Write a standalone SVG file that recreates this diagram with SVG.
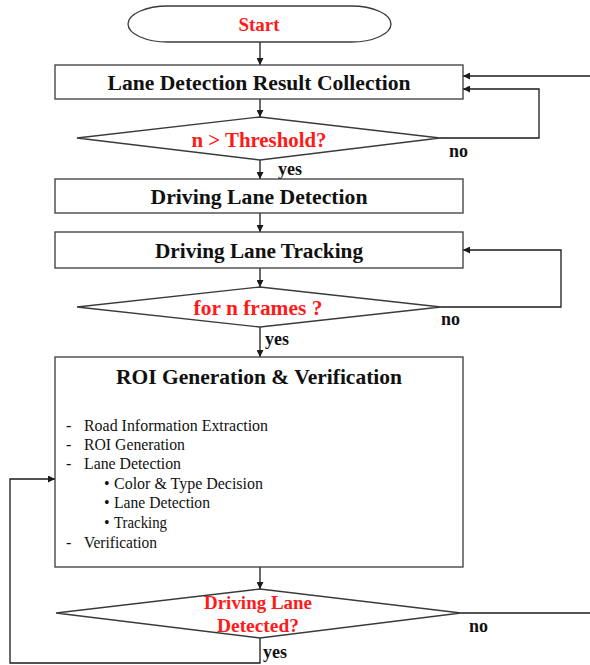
<svg xmlns="http://www.w3.org/2000/svg" width="590" height="665" viewBox="0 0 590 665">
<style>
.shape{fill:#fff;stroke:#3a3a3a;stroke-width:1.3}
.conn{fill:none;stroke:#1a1a1a;stroke-width:1.3}
.t{font-family:"Liberation Serif","Times New Roman",serif;font-weight:bold;text-anchor:middle}
.red{fill:#ff1a1a}
.blk{fill:#111}
.lbl{font-family:"Liberation Serif","Times New Roman",serif;font-weight:bold;font-size:18px;fill:#111}
.li{font-family:"Liberation Serif","Times New Roman",serif;font-size:16px;fill:#111}
</style>
<defs>
<marker id="ah" viewBox="0 0 10 10" refX="10" refY="5" markerWidth="7" markerHeight="7" orient="auto" markerUnits="userSpaceOnUse">
<path d="M0,0 L10,5 L0,10 z" fill="#1a1a1a"/>
</marker>
</defs>
<g id="connectors">
<line class="conn" x1="260" y1="42" x2="260" y2="65" marker-end="url(#ah)"/>
<line class="conn" x1="260" y1="99" x2="260" y2="117" marker-end="url(#ah)"/>
<polyline class="conn" points="440,138 539,138 539,89 463,89" marker-end="url(#ah)"/>
<line class="conn" x1="590" y1="76" x2="463" y2="76" marker-end="url(#ah)"/>
<line class="conn" x1="260" y1="160" x2="260" y2="179" marker-end="url(#ah)"/>
<line class="conn" x1="260" y1="213" x2="260" y2="232" marker-end="url(#ah)"/>
<line class="conn" x1="260" y1="268" x2="260" y2="287" marker-end="url(#ah)"/>
<polyline class="conn" points="441,307 561,307 561,250 463,250" marker-end="url(#ah)"/>
<line class="conn" x1="260" y1="327" x2="260" y2="357" marker-end="url(#ah)"/>
<line class="conn" x1="260" y1="567" x2="260" y2="589" marker-end="url(#ah)"/>
<line class="conn" x1="461" y1="613" x2="590" y2="613"/>
<polyline class="conn" points="260,638 260,663 10,663 10,479 55,479" marker-end="url(#ah)"/>
<text class="lbl" x="449" y="157">no</text>
<text class="lbl" x="278" y="175">yes</text>
<text class="lbl" x="441" y="325">no</text>
<text class="lbl" x="265" y="345">yes</text>
<text class="lbl" x="469" y="632">no</text>
<text class="lbl" x="263" y="658">yes</text>
</g>
<g id="start">
<rect class="shape" x="128" y="6" width="263" height="36" rx="40" ry="18"/>
<text class="t red" x="259" y="31" font-size="19">Start</text>
</g>
<g id="collection">
<rect class="shape" x="55" y="65" width="408" height="34"/>
<text class="t blk" x="259" y="90" font-size="20" textLength="303" lengthAdjust="spacingAndGlyphs">Lane Detection Result Collection</text>
</g>
<g id="threshold">
<polygon class="shape" points="77,138 260,117 440,138 260,160"/>
<text class="t red" x="259" y="147" font-size="20" textLength="135" lengthAdjust="spacingAndGlyphs">n &gt; Threshold?</text>
</g>
<g id="detection">
<rect class="shape" x="55" y="179" width="408" height="34"/>
<text class="t blk" x="259" y="204" font-size="20" textLength="217" lengthAdjust="spacingAndGlyphs">Driving Lane Detection</text>
</g>
<g id="tracking">
<rect class="shape" x="55" y="232" width="408" height="36"/>
<text class="t blk" x="259" y="258" font-size="20" textLength="208" lengthAdjust="spacingAndGlyphs">Driving Lane Tracking</text>
</g>
<g id="frames">
<polygon class="shape" points="77,307 260,287 441,307 260,327"/>
<text class="t red" x="258" y="315" font-size="20" textLength="129" lengthAdjust="spacingAndGlyphs">for n frames ?</text>
</g>
<g id="roi">
<rect class="shape" x="55" y="357" width="408" height="210"/>
<text class="t blk" x="259" y="384" font-size="22" textLength="286" lengthAdjust="spacingAndGlyphs">ROI Generation &amp; Verification</text>
<text class="li" x="66" y="431">-</text>
<text class="li" x="84" y="431" textLength="184" lengthAdjust="spacingAndGlyphs">Road Information Extraction</text>
<text class="li" x="66" y="450">-</text>
<text class="li" x="84" y="450" textLength="101" lengthAdjust="spacingAndGlyphs">ROI Generation</text>
<text class="li" x="66" y="469">-</text>
<text class="li" x="84" y="469" textLength="97" lengthAdjust="spacingAndGlyphs">Lane Detection</text>
<text class="li" x="104" y="489">•</text>
<text class="li" x="114" y="489" textLength="149" lengthAdjust="spacingAndGlyphs">Color &amp; Type Decision</text>
<text class="li" x="104" y="508">•</text>
<text class="li" x="114" y="508" textLength="96" lengthAdjust="spacingAndGlyphs">Lane Detection</text>
<text class="li" x="104" y="528">•</text>
<text class="li" x="114" y="528" textLength="53" lengthAdjust="spacingAndGlyphs">Tracking</text>
<text class="li" x="66" y="548">-</text>
<text class="li" x="84" y="548" textLength="73" lengthAdjust="spacingAndGlyphs">Verification</text>
</g>
<g id="detected">
<polygon class="shape" points="56,613 260,589 461,613 260,638"/>
<text class="t red" x="258" y="609" font-size="18" textLength="108" lengthAdjust="spacingAndGlyphs">Driving Lane</text>
<text class="t red" x="258" y="632" font-size="18" textLength="82" lengthAdjust="spacingAndGlyphs">Detected?</text>
</g>
</svg>
